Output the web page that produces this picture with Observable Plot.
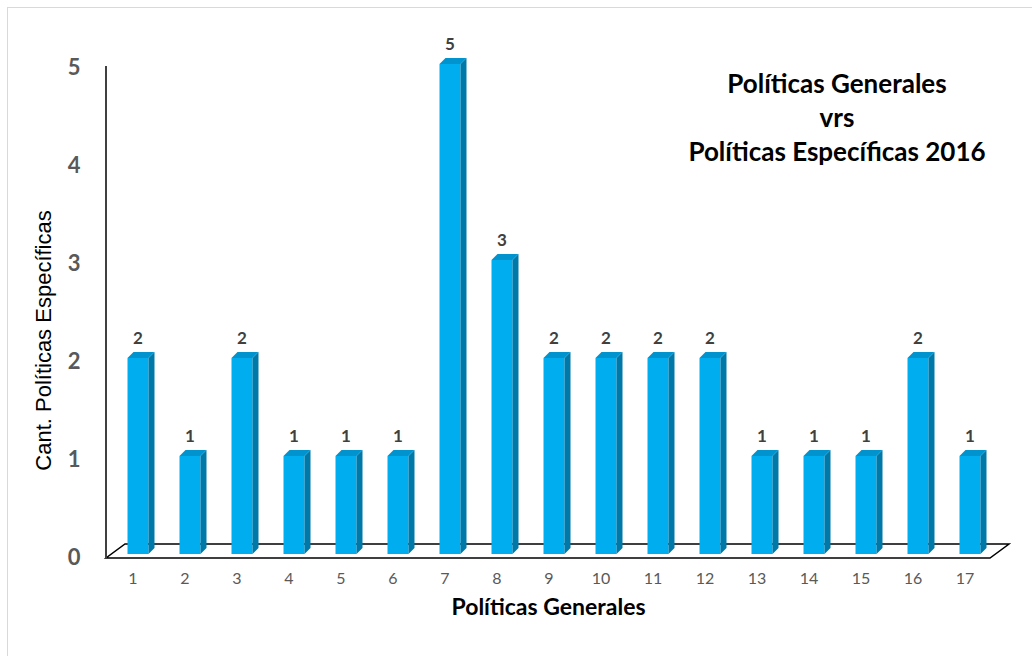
<!DOCTYPE html>
<html><head><meta charset="utf-8">
<script src="https://cdn.jsdelivr.net/npm/d3@7"></script>
<script src="https://cdn.jsdelivr.net/npm/@observablehq/plot@0.6"></script>
<style>
html,body{margin:0;padding:0;background:#fff;overflow:hidden}
#wrap{position:relative;width:1032px;height:656px}
#border{position:absolute;left:7px;top:7px;width:1040px;height:660px;border:1px solid #d9d9d9;box-sizing:border-box}
#chart{position:absolute;left:0;top:0}
#title{position:absolute;left:637px;width:400px;top:66px;text-align:center;font:bold 26px Lato;line-height:34px;color:#000}
</style></head>
<body><div id="wrap"><div id="border"></div><div id="chart"></div><div id="title">Políticas Generales<br>vrs<br>Políticas Específicas 2016</div></div>
<script>
const categories = ["1","2","3","4","5","6","7","8","9","10","11","12","13","14","15","16","17"];
const values = [2,1,2,1,1,1,5,3,2,2,2,2,1,1,1,2,1];
const yTicks = [0,1,2,3,4,5];
const yTitle = "Cant. Políticas Específicas";
const xTitle = "Políticas Generales";

const data = categories.map((c, i) => ({cat: c, val: values[i]}));
const FRONT = "#00AEEF", SIDE = "#0078A8", TOP = "#0093CD";
const DX = 5.5, DEPTH_X = 6, DEPTH_Y = 6;

function floorMark() {
  return Plot.ruleY([0], {render(index, scales, values, dims) {
    const y0 = scales.y(0), y5 = scales.y(5);
    const L = dims.marginLeft, R = dims.width - dims.marginRight;
    const g = d3.create("svg:g");
    g.append("path")
      .attr("d", `M${L},${y0 + 4}L${R},${y0 + 4}L${R + 19},${y0 - 10}L${L + 19},${y0 - 10}Z`)
      .attr("fill", "#fff").attr("stroke", "#000").attr("stroke-width", 1.5);
    g.append("line").attr("x1", L).attr("x2", L).attr("y1", y5 + 2).attr("y2", y0 + 4)
      .attr("stroke", "#404040").attr("stroke-width", 2);
    return g.node();
  }});
}

function prismMark(data) {
  return Plot.barY(data, {x: "cat", y: "val", render(index, scales, values) {
    const bw = typeof scales.x.bandwidth === "function" ? scales.x.bandwidth() : scales.x.bandwidth;
    const g = d3.create("svg:g");
    for (const i of index) {
      const x0 = values.x[i] + DX, x1 = x0 + bw;
      const yt = Math.min(values.y1[i], values.y2[i]);
      const yb = Math.max(values.y1[i], values.y2[i]);
      g.append("rect").attr("x", x0).attr("y", yt).attr("width", bw).attr("height", yb - yt).attr("fill", FRONT);
      g.append("path").attr("d", `M${x1},${yb}L${x1 + DEPTH_X},${yb - DEPTH_Y}L${x1 + DEPTH_X},${yt - DEPTH_Y}L${x1},${yt}Z`).attr("fill", SIDE);
      g.append("path").attr("d", `M${x0},${yt}L${x0 + DEPTH_X},${yt - DEPTH_Y}L${x1 + DEPTH_X},${yt - DEPTH_Y}L${x1},${yt}Z`).attr("fill", TOP);
    }
    return g.node();
  }});
}

const chart = Plot.plot({
  width: 1032, height: 656,
  marginLeft: 106, marginRight: 42, marginTop: 64, marginBottom: 102,
  style: {fontFamily: "Lato", background: "transparent"},
  x: {domain: categories, paddingInner: 0.6, paddingOuter: 0.3},
  y: {domain: [0, 5]},
  marks: [
    floorMark(),
    prismMark(data),
    Plot.axisY({ticks: yTicks, tickFormat: "d", tickSize: 0, tickPadding: 26, fontSize: 22, fontWeight: "bold", fill: "#595959", label: null, dy: 3}),
    Plot.axisX({tickSize: 0, tickPadding: 18, fontSize: 16, fill: "#595959", label: null}),
    Plot.text([yTitle], {frameAnchor: "left", textAnchor: "middle", rotate: -90, dx: -63, dy: 31, fontSize: 22, fontFamily: "Liberation Sans", fill: "#000"}),
    Plot.text([xTitle], {frameAnchor: "bottom", dy: 60, fontSize: 23, fontWeight: "bold", fill: "#000"}),
    Plot.text(data, {x: "cat", y: "val", text: d => String(d.val), dx: 5, dy: -20, fontSize: 17, fontWeight: "bold", fill: "#404040"})
  ]
});
document.getElementById("chart").appendChild(chart);
</script>
</body></html>
